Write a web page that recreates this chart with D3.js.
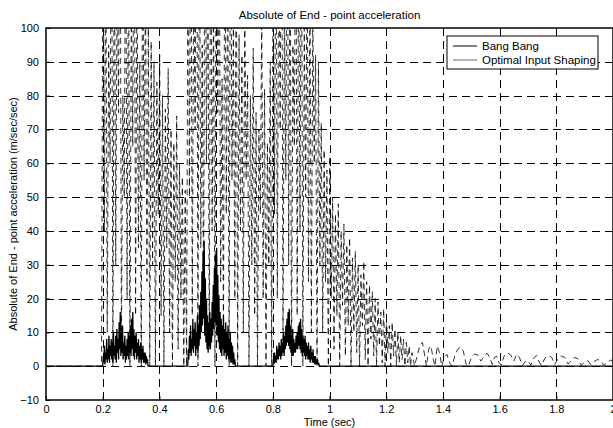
<!DOCTYPE html>
<html>
<head>
<meta charset="utf-8">
<script src="https://cdn.jsdelivr.net/npm/d3@7"></script>
<style>
  body { margin: 0; background: #fff; }
  text { font-family: 'Liberation Sans', Arial, sans-serif; font-size: 11px; fill: #000; }
</style>
</head>
<body>
<div id="chart"></div>
<script>
const title = 'Absolute of End - point acceleration';
const xLabel = 'Time (sec)';
const yLabel = 'Absolute of End - point acceleration (m/sec/sec)';

const xTicks = [0, 0.2, 0.4, 0.6, 0.8, 1, 1.2, 1.4, 1.6, 1.8, 2];
const yTicks = [-10, 0, 10, 20, 30, 40, 50, 60, 70, 80, 90, 100];
const seriesNames = ['Bang Bang', 'Optimal Input Shaping'];

// bang bang, sampled every 5 ms from 0.196 s (values above 100 are off the plot)
const bangStart = 0.196, bangStep = 0.005;
const bangDense = [
  0,150,40,130,10,95,60,160,0,140,30,120,75,170,5,80,50,145,20,135,0,110,65,155,15,125,35,90,0,140,55,115,25,100,
  0,96,30,90,0,84,45,92,15,80,0,76,35,88,10,70,0,66,25,74,5,60,20,56,0,52,
  0,140,50,160,15,120,70,180,0,150,35,95,20,170,60,130,5,155,40,110,0,165,75,140,25,85,10,150,45,125,0,160,55,100,20,135,
  0,98,40,92,10,110,55,86,0,80,30,94,15,75,0,70,45,105,20,82,0,66,30,90,
  0,120,45,150,20,135,70,170,5,110,55,160,30,140,0,95,65,155,15,130,40,145,0,100,50,125,25,115,10,105,60,92,
  0,90,30,72,10,64,25,58,0,62,20,50,5,45,15,48,0,40,18,42,3,36,12,38,0,32,10,34,4,30,0,27,12,31,2,25,0,24,8,22,
  3,20,0,19,6,16,1,17,0,14,4,12,0,13,3,11,0,10,1,9,2,8,0,7,1,6,0,4
];
const bangTailTime = [1.300,1.312,1.320,1.328,1.336,1.342,1.350,1.358,1.366,1.372,1.380,1.388,1.396,1.404,1.414,1.424,1.432,
  1.442,1.452,1.462,1.472,1.482,1.490,1.500,1.512,1.524,1.534,1.545,1.556,1.566,1.574,1.582,1.590,1.598,1.606,1.616,1.628,
  1.640,1.650,1.660,1.670,1.680,1.692,1.700,1.710,1.720,1.730,1.740,1.748,1.760,1.772,1.784,1.794,1.806,1.818,1.830,1.842,
  1.852,1.864,1.876,1.888,1.900,1.912,1.922,1.934,1.946,1.958,1.968,1.980,1.992,2.000];
const bangTailAcc = [0,4,6.5,7,3,0,5,6,2,0,6,4,0,2.5,3.5,1,0,
  3,5,5.6,4.5,0.5,0,2.5,3.6,3.2,1.5,3,3.8,2.5,0.5,2.6,3,1,0.3,3,4,
  3.2,1.5,3.5,2.6,0.2,1.5,1.6,0.3,2.4,3.2,1.2,0.2,2.4,3.1,2.6,0.5,2.2,3,2.6,0.6,
  1.6,2.6,2.2,0.3,1.2,1.6,0.4,1.4,2,1.4,0.2,1.3,1.8,1.5];

// optimal input shaping, three bursts sampled every 2 ms
const optStep = 0.002;
const optStarts = [0.2, 0.5, 0.8];
const optBurst1 = [0,3,1,6,0.5,4,2,8,1,5,2,9,1,6,3,8,2,7,1,10,3,6,2,9,1,11,4,8,2,13,5,16,3,10,4,12,2,7,3,9,
  1,6,2,8,3,10,2,9,4,12,3,14,5,16,3,11,2,9,4,10,2,7,3,8,1,6,2,7,1,5,2,6,1,4,1,4,0.5,3,1,2,0];
const optBurst2 = [0,5,2,9,4,12,3,8,5,14,4,11,6,13,3,10,5,15,4,12,6,18,8,22,10,28,12,34,14,37,9,26,7,20,5,15,4,13,6,16,
  5,14,7,19,9,24,11,29,13,33,12,35,9,27,7,21,5,16,4,14,3,12,5,15,3,11,4,13,2,10,3,12,2,8,2,10,1,7,1,6,0.5,4,0.5,2,0];
const optBurst3 = [0,2,0.5,4,1,3,1,6,2,5,2,7,3,6,2,8,3,7,4,10,3,9,5,12,6,14,7,16,6,17,5,12,4,9,3,11,3,8,4,7,
  4,9,5,10,5,12,6,13,5,14,4,11,3,9,4,8,3,9,2,7,3,6,2,7,2,5,1,6,2,4,1,5,1,3,0.5,3,0.5,2,0.5,2,0.3,1,0];

const margin = { top: 28, right: 0, bottom: 28, left: 46 },
      width = 613 - margin.left - margin.right,
      height = 428 - margin.top - margin.bottom;

const xScale = d3.scaleLinear().domain([0, 2]).range([0, width]);
const yScale = d3.scaleLinear().domain([-10, 100]).range([height, 0]);

// build the point lists
const bangData = [[0, 0]]
  .concat(bangDense.map((v, i) => [bangStart + i * bangStep, v]))
  .concat(bangTailTime.map((t, i) => [t, bangTailAcc[i]]));

let optData = [[0, 0]];
[optBurst1, optBurst2, optBurst3].forEach((burst, b) => {
  optData = optData.concat(burst.map((v, i) => [optStarts[b] + i * optStep, v]));
});
optData.push([2, 0]);

const svg = d3.select('#chart').append('svg')
    .attr('width', 613)
    .attr('height', 428);

const wrapper = svg.append('g')
    .attr('transform', 'translate(' + margin.left + ',' + margin.top + ')');

wrapper.append('clipPath').attr('id', 'plot-clip')
  .append('rect')
    .attr('width', width)
    .attr('height', height);

// grid
const grid = wrapper.append('g')
    .style('stroke', '#000')
    .style('stroke-width', 1)
    .style('stroke-dasharray', '8,5');

grid.selectAll('.vgrid')
    .data(xTicks.slice(1, -1))
  .enter().append('line')
    .attr('x1', d => Math.round(xScale(d)) + 0.5)
    .attr('x2', d => Math.round(xScale(d)) + 0.5)
    .attr('y1', 0)
    .attr('y2', height);

grid.selectAll('.hgrid')
    .data(yTicks.slice(1, -1))
  .enter().append('line')
    .attr('x1', 0)
    .attr('x2', width)
    .attr('y1', d => Math.round(yScale(d)) + 0.5)
    .attr('y2', d => Math.round(yScale(d)) + 0.5);

const line = d3.line()
    .x(d => xScale(d[0]))
    .y(d => yScale(d[1]));

const plot = wrapper.append('g').attr('clip-path', 'url(#plot-clip)');

plot.append('path')
    .datum(bangData)
    .attr('d', line)
    .style('fill', 'none')
    .style('stroke', '#000')
    .style('stroke-width', 0.8)
    .style('stroke-dasharray', '6,4');

plot.append('path')
    .datum(optData)
    .attr('d', line)
    .style('fill', 'none')
    .style('stroke', '#000')
    .style('stroke-width', 1.3);

// axes box
wrapper.append('rect')
    .attr('x', 0)
    .attr('y', 0)
    .attr('width', width)
    .attr('height', height)
    .style('fill', 'none')
    .style('stroke', '#000')
    .style('stroke-width', 1.5);

const xAxis = d3.axisBottom(xScale)
    .tickValues(xTicks)
    .tickFormat(d3.format('~g'))
    .tickSize(-4)
    .tickPadding(5);

wrapper.append('g')
    .attr('transform', 'translate(0,' + height + ')')
    .call(xAxis)
    .call(g => g.select('.domain').remove())
    .call(g => g.selectAll('text').style('font-size', '11px').style('font-family', "'Liberation Sans', Arial, sans-serif"));

const yAxis = d3.axisLeft(yScale)
    .tickValues(yTicks)
    .tickSize(-4)
    .tickPadding(7);

wrapper.append('g')
    .call(yAxis)
    .call(g => g.select('.domain').remove())
    .call(g => g.selectAll('text').style('font-size', '11px').style('font-family', "'Liberation Sans', Arial, sans-serif"));

// titles
svg.append('text')
    .attr('x', margin.left + width / 2)
    .attr('y', 19)
    .attr('text-anchor', 'middle')
    .style('font-size', '11.5px')
    .text(title);

svg.append('text')
    .attr('x', margin.left + width / 2)
    .attr('y', 426)
    .attr('text-anchor', 'middle')
    .text(xLabel);

svg.append('text')
    .attr('transform', 'translate(17,' + (margin.top + height / 2) + ') rotate(-90)')
    .attr('text-anchor', 'middle')
    .text(yLabel);

// legend
const legend = svg.append('g').attr('transform', 'translate(447,36)');
legend.append('rect')
    .attr('width', 151)
    .attr('height', 33)
    .style('fill', '#fff')
    .style('stroke', '#000')
    .style('stroke-width', 1);

const legendColors = ['#000', '#666'];
const rows = legend.selectAll('.row')
    .data(seriesNames)
  .enter().append('g')
    .attr('transform', (d, i) => 'translate(0,' + (10 + i * 14) + ')');

rows.append('line')
    .attr('x1', 6)
    .attr('x2', 30)
    .attr('y1', 0)
    .attr('y2', 0)
    .style('stroke', (d, i) => legendColors[i])
    .style('stroke-width', 1);

rows.append('text')
    .attr('x', 35)
    .attr('y', 4)
    .style('font-size', '11.5px')
    .text(d => d);
</script>
</body>
</html>
